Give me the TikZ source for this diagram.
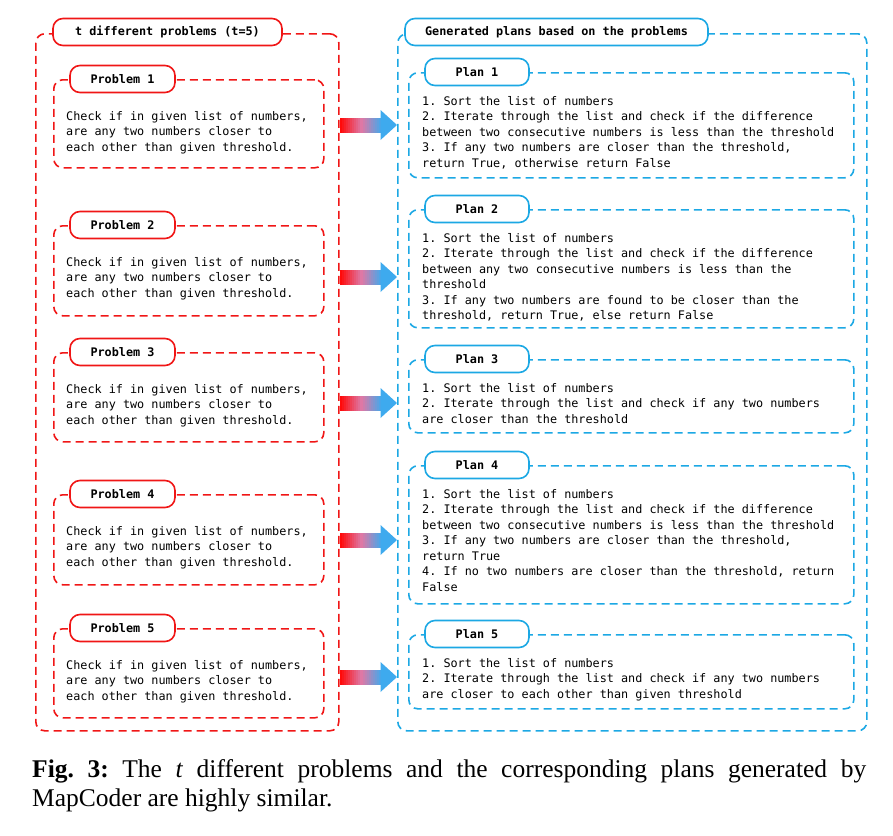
\documentclass[tikz,border=0pt]{standalone}
\usepackage{fontspec}
\setmainfont{Liberation Serif}
\setmonofont{DejaVu Sans Mono}
\usetikzlibrary{calc}
\definecolor{myred}{RGB}{240,22,22}
\definecolor{myblue}{RGB}{28,168,228}
\definecolor{arrred}{RGB}{255,10,10}
\definecolor{arrmid}{RGB}{222,120,165}
\definecolor{arrblue}{RGB}{62,170,238}
\newcommand\monotext{\fontsize{11.8}{15.5}\selectfont\ttfamily}
\newcommand\captext{\fontsize{25.5}{29}\selectfont\frenchspacing}
\tikzset{
  dashbox/.style={line width=1.6pt, dash pattern=on 8pt off 5pt, rounded corners=9pt, inner sep=0pt, anchor=north west},
  redbox/.style={dashbox, draw=myred},
  bluebox/.style={dashbox, draw=myblue},
  tab/.style={fill=white, line width=1.6pt, rounded corners=10pt, minimum height=27pt, inner sep=0pt, font=\monotext\bfseries},
  redtab/.style={tab, draw=myred},
  bluetab/.style={tab, draw=myblue},
  body/.style={anchor=north west, inner sep=0pt, align=left, font=\monotext}
}
\begin{document}
\begin{tikzpicture}[x=1pt, y=-1pt]
\useasboundingbox (0,0) rectangle (893,835);
% outer frames
\node[redbox, minimum width=303pt, minimum height=697pt] (probs) at (35,33) {};
\node[bluebox, minimum width=469pt, minimum height=697pt] (plans) at (397,33) {};
\node[redtab, minimum width=229pt] (probtitle) at (167.5,32) {t different problems (t=5)};
\node[bluetab, minimum width=303pt] (plantitle) at (556.5,32) {Generated plans based on the problems};
% problems
\foreach \i/\t/\h in {1/79/88, 2/225/90, 3/352/89, 4/494/90, 5/628/89}{
  \node[redbox, minimum width=270pt, minimum height=\h pt] (pb\i) at (53,\t) {};
  \node[redtab, minimum width=105pt] (ptab\i) at ($(pb\i.north west)+(69.5,0)$) {Problem \i};
  \node[body] (ptext\i) at ($(pb\i.north west)+(13,32)$) {Check if in given list of numbers,\\are any two numbers closer to\\each other than given threshold.};
}
% plans
\node[bluebox, minimum width=445pt, minimum height=105pt] (pl1) at (408,72) {};
\node[bluebox, minimum width=445pt, minimum height=118pt] (pl2) at (408,209) {};
\node[bluebox, minimum width=445pt, minimum height=73pt] (pl3) at (408,359) {};
\node[bluebox, minimum width=445pt, minimum height=138pt] (pl4) at (408,465) {};
\node[bluebox, minimum width=445pt, minimum height=74pt] (pl5) at (408,634) {};
\foreach \i in {1,...,5}{
  \node[bluetab, minimum width=104pt] (ltab\i) at ($(pl\i.north west)+(69,0)$) {Plan \i};
}
\node[body] (ltext1) at ($(pl1.north west)+(14,24)$) {1. Sort the list of numbers\\2. Iterate through the list and check if the difference\\between two consecutive numbers is less than the threshold\\3. If any two numbers are closer than the threshold,\\return True, otherwise return False};
\node[body] (ltext2) at ($(pl2.north west)+(14,24)$) {1. Sort the list of numbers\\2. Iterate through the list and check if the difference\\between any two consecutive numbers is less than the\\threshold\\3. If any two numbers are found to be closer than the\\threshold, return True, else return False};
\node[body] (ltext3) at ($(pl3.north west)+(14,24)$) {1. Sort the list of numbers\\2. Iterate through the list and check if any two numbers\\are closer than the threshold};
\node[body] (ltext4) at ($(pl4.north west)+(14,24)$) {1. Sort the list of numbers\\2. Iterate through the list and check if the difference\\between two consecutive numbers is less than the threshold\\3. If any two numbers are closer than the threshold,\\return True\\4. If no two numbers are closer than the threshold, return\\False};
\node[body] (ltext5) at ($(pl5.north west)+(14,24)$) {1. Sort the list of numbers\\2. Iterate through the list and check if any two numbers\\are closer to each other than given threshold};
% arrows between the frames, shaft in slices from red to blue
\foreach \i/\y in {1/125, 2/277, 3/403, 4/540, 5/677}{
  \coordinate (from\i) at (probs.east |- 0,\y);
  \coordinate (to\i) at (plans.west |- 0,\y);
  \foreach \k in {0,...,10}{
    \pgfmathtruncatemacro\p{10*\k}
    \fill[arrmid!\p!arrred] ($(from\i)+(2*\k,-7.5)$) rectangle ($(from\i)+(2*\k+2.4,7.5)$);
  }
  \foreach \k in {0,...,10}{
    \pgfmathtruncatemacro\p{10*\k}
    \fill[arrblue!\p!arrmid] ($(from\i)+(2*\k+21,-7.5)$) rectangle ($(to\i)+(-16,7.5)$);
  }
  \fill[arrblue] ($(to\i)+(-16.5,-15)$) -- (to\i) -- ($(to\i)+(-16.5,15)$) -- cycle;
}
% caption
\node[anchor=north west, inner sep=0pt, text width=834pt, align=justify, font=\captext] (caption) at (32,759)
  {\textbf{Fig. 3:} The \textit{t} different problems and the corresponding plans generated by\linebreak MapCoder are highly similar.};
\end{tikzpicture}
\end{document}
